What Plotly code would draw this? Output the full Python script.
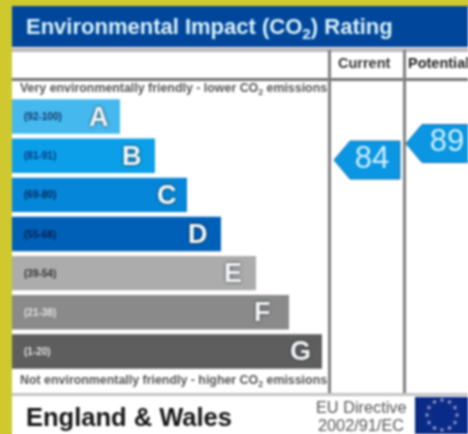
import plotly.graph_objects as go

bands = ["(92-100)", "(81-91)", "(69-80)", "(55-68)", "(39-54)", "(21-38)", "(1-20)"]
letters = ["A", "B", "C", "D", "E", "F", "G"]
bar_lengths = [108, 143, 175, 209, 244, 277, 310]
bar_colors = ["#45b8ee", "#0a9fe8", "#0586d8", "#0060b8", "#acacac", "#8a8a8a", "#5e5e5e"]
label_colors = ["#123a6a", "#0a3a80", "#0a2a60", "#0a2050", "#333333", "#e0e0e0", "#e0e0e0"]
letter_pad = [9, 11, 8, 11, 12, 16, 9]
columns = ["Current", "Potential"]
ratings = [84, 89]

W, H = 468, 434
YEL, NAVY, GREY = "#cfc92f", "#00479c", "#808080"


def px(x):
    return x / W


def py(y):
    return 1 - y / H


fig = go.Figure()
fig.add_trace(go.Bar(
    y=letters, x=bar_lengths, orientation="h", marker=dict(color=bar_colors, line_width=0),
    width=0.88, hoverinfo="skip", showlegend=False,
))
fig.add_trace(go.Scatter(
    x=columns, y=ratings, xaxis="x2", yaxis="y2", mode="text",
    text=[str(v) for v in ratings],
    textfont=dict(family="Liberation Sans", size=31, color="#cfeefa"),
    hoverinfo="skip", showlegend=False,
))
fig.add_trace(go.Scatterpolar(
    r=[1] * 12, theta=[0, 30, 60, 90, 120, 150, 180, 210, 240, 270, 300, 330],
    mode="markers", marker=dict(symbol="star", size=4, color="#a8aecb"),
    subplot="polar", hoverinfo="skip", showlegend=False,
))


def rect(x0, y0, x1, y1, color, layer="below"):
    return dict(type="rect", xref="paper", yref="paper", x0=px(x0), x1=px(x1), y0=py(y0), y1=py(y1),
                fillcolor=color, line_width=0, layer=layer)


shapes = [
    rect(0, 0, 12, H, YEL),
    rect(0, 0, W, 6, YEL),
    rect(12, 6, W, 47, NAVY),
    rect(12, 48, W, 52, "#bdb8bc"),
    rect(12, 78, W, 81, "#757575"),
    rect(328, 50, 331, 394, GREY),
    rect(403, 50, 406, 394, GREY),
    rect(12, 393, W, 396, "#c4c4c4"),
    rect(415, 397, W, H, "#0a2a88"),
]
pointer_spans = [(334, 400), (406, 480)]
for (x0, x1), v in zip(pointer_spans, ratings):
    shapes.append(dict(
        type="path", xref="paper", yref="y2", ysizemode="pixel", yanchor=v, xsizemode="pixel",
        xanchor=px(x0),
        path=f"M 0 0 L 16 -19 L {x1-x0} -19 L {x1-x0} 19 L 16 19 Z",
        fillcolor="#0a96e2", line=dict(color="#1a74ad", width=1), layer="below",
    ))

ann = []


def text(x, y, s, size, color, anchor="left", weight="bold", family="Liberation Sans"):
    ann.append(dict(xref="paper", yref="paper", x=px(x), y=py(y), text=s, showarrow=False,
                    xanchor=anchor, yanchor="middle",
                    font=dict(family=family, size=size, color=color, weight=weight)))


text(24, 28, "Environmental Impact (CO<sub>2</sub>) Rating", 22, "#d8f0f6")
text(364, 63, "Current", 14.5, "#333333", "center")
text(406, 63, "Potential", 14.5, "#222222")
text(18, 89, "Very environmentally friendly - lower CO<sub>2</sub> emissions", 12.4, "#555555")
text(18, 381, "Not environmentally friendly - higher CO<sub>2</sub> emissions", 12.4, "#555555")
text(24, 417, "England &amp; Wales", 25.5, "#161616")
text(361, 407, "EU Directive", 16.3, "#555555", "center", "normal")
text(361, 425, "2002/91/EC", 16.3, "#555555", "center", "normal")

for letter, length, pad, band, color in zip(letters, bar_lengths, letter_pad, bands, label_colors):
    ann.append(dict(
        xref="x", yref="y", x=length, y=letter, xanchor="right", yanchor="middle", xshift=-pad,
        text=letter, showarrow=False,
        font=dict(family="Liberation Sans", size=27, color="#f2f6f8", weight="bold",
                  shadow="0 0 3px #222222"),
    ))
    ann.append(dict(
        xref="x", yref="y", x=0, y=letter, xanchor="left", yanchor="middle", xshift=10,
        text=band, showarrow=False,
        font=dict(family="Liberation Sans", size=10, color=color, weight="bold"),
    ))

fig.update_layout(
    width=W, height=H, margin=dict(l=0, r=0, t=0, b=0, pad=0), autosize=False,
    paper_bgcolor="#ffffff", plot_bgcolor="rgba(0,0,0,0)", showlegend=False,
    xaxis=dict(domain=[px(12), 1], range=[0, W - 12], visible=False, fixedrange=True),
    yaxis=dict(domain=[py(371), py(97)], categoryorder="array", categoryarray=letters,
               autorange="reversed", visible=False, fixedrange=True),
    xaxis2=dict(domain=[px(329), 1], range=[-0.573, 1.28], type="category", visible=False, anchor="y2",
                categoryorder="array", categoryarray=columns, fixedrange=True),
    yaxis2=dict(domain=[0, 1], range=[1, 132.5], anchor="x2", visible=False, fixedrange=True),
    polar=dict(domain=dict(x=[px(427), px(457)], y=[py(430), py(400)]),
               bgcolor="rgba(0,0,0,0)",
               radialaxis=dict(visible=False, showticklabels=False, ticks="", showline=False,
                               showgrid=False, range=[0, 1.0]),
               angularaxis=dict(visible=False, showticklabels=False, ticks="", showline=False,
                                showgrid=False)),
    shapes=shapes, annotations=ann,
)
fig.write_html(
    "out.html",
    config=dict(displayModeBar=False),
    post_script="document.body.style.margin='0';document.body.style.overflow='hidden';"
                "document.documentElement.style.background="
                "'linear-gradient(#cfc92f 6px,transparent 6px),linear-gradient(90deg,#cfc92f 12px,#fff 12px)';"
                "document.body.style.filter='blur(0.9px)';",
)
